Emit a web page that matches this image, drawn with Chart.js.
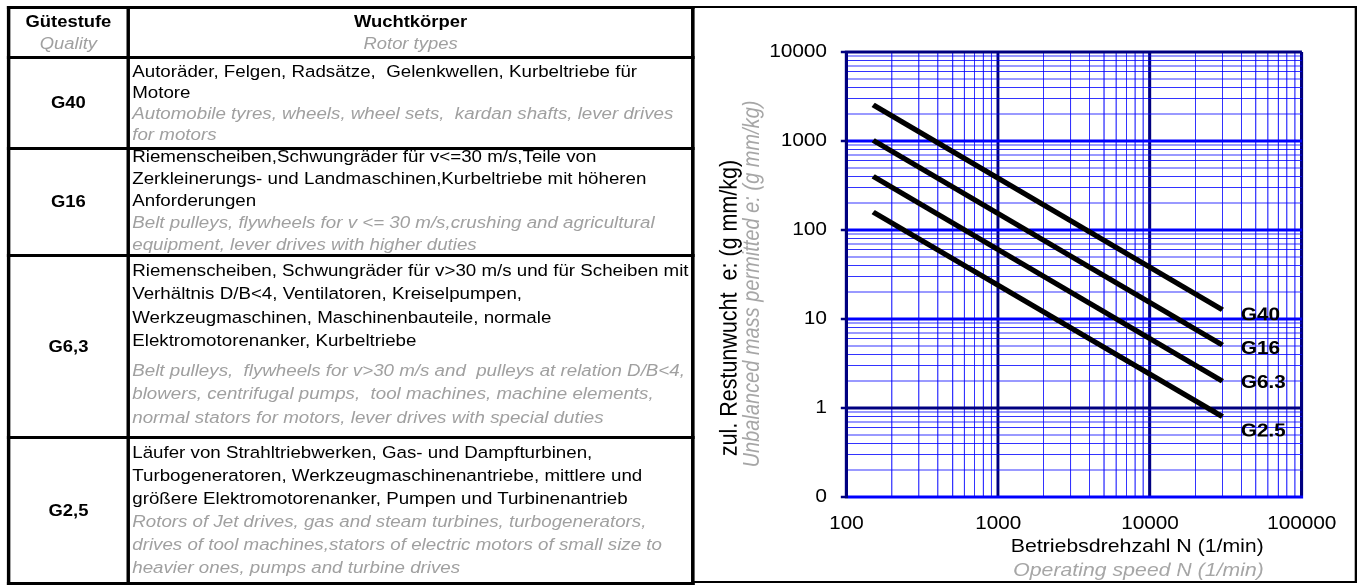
<!DOCTYPE html>
<html>
<head>
<meta charset="utf-8">
<script src="https://cdn.jsdelivr.net/npm/chart.js@4"></script>
<style>
  html, body { margin: 0; padding: 0; background: #fff; }
  body { width: 1358px; height: 585px; overflow: hidden; position: relative; }
  /* the reference is stretched horizontally, so the whole page is laid out narrower and scaled */
  #page { position: absolute; left: 0; top: 0; width: 1181px; height: 585px; transform: scaleX(1.15); transform-origin: 0 0;
          font-family: "Liberation Sans", Arial, sans-serif; }
  table { position: absolute; left: 6px; top: 6px; width: 595px; border-collapse: collapse; table-layout: fixed; font-size: 16.3px; color: #000; }
  td { border: 3px solid #000; padding: 0; vertical-align: middle; }
  .cell { overflow: hidden; display: flex; flex-direction: column; justify-content: center; white-space: nowrap; }
  .q { text-align: center; font-weight: bold; font-size: 16px; }
  .d { padding-left: 2px; }
  .en { color: #a0a0a0; font-style: italic; font-weight: normal; }
  .hd { text-align: center; line-height: 22px; font-size: 16px; }
  .hd b { font-weight: bold; }
  #chartBox { position: absolute; left: 601px; top: 6px; width: 575px; height: 573px; border: 2px solid #000; }
</style>
</head>
<body>
<div id="page">
  <table>
    <colgroup><col style="width:104px"><col style="width:491px"></colgroup>
    <tr>
      <td><div class="cell hd" style="height:47px"><b>Gütestufe</b><span class="en">Quality</span></div></td>
      <td><div class="cell hd" style="height:47px"><b>Wuchtkörper</b><span class="en">Rotor types</span></div></td>
    </tr>
    <tr>
      <td><div class="cell q" style="height:88px">G40</div></td>
      <td><div class="cell d" style="height:88px; line-height:21px">
        <div>Autoräder, Felgen, Radsätze,&nbsp; Gelenkwellen, Kurbeltriebe für<br>Motore</div>
        <div class="en">Automobile tyres, wheels, wheel sets,&nbsp; kardan shafts, lever drives<br>for motors</div>
      </div></td>
    </tr>
    <tr>
      <td><div class="cell q" style="height:104px">G16</div></td>
      <td><div class="cell d" style="height:104px; line-height:22px; padding-bottom:4px; box-sizing:border-box">
        <div>Riemenscheiben,Schwungräder für v&lt;=30 m/s,Teile von<br>Zerkleinerungs- und Landmaschinen,Kurbeltriebe mit höheren<br>Anforderungen</div>
        <div class="en">Belt pulleys, flywheels for v &lt;= 30 m/s,crushing and agricultural<br>equipment, lever drives with higher duties</div>
      </div></td>
    </tr>
    <tr>
      <td><div class="cell q" style="height:179px">G6,3</div></td>
      <td><div class="cell d" style="height:179px; line-height:23.5px; padding-bottom:5px; box-sizing:border-box">
        <div>Riemenscheiben, Schwungräder für v&gt;30 m/s und für Scheiben mit<br>Verhältnis D/B&lt;4, Ventilatoren, Kreiselpumpen,<br>Werkzeugmaschinen, Maschinenbauteile, normale<br>Elektromotorenanker, Kurbeltriebe</div>
        <div class="en" style="margin-top:6px">Belt pulleys,&nbsp; flywheels for v&gt;30 m/s and&nbsp; pulleys at relation D/B&lt;4,<br>blowers, centrifugal pumps,&nbsp; tool machines, machine elements,<br>normal stators for motors, lever drives with special duties</div>
      </div></td>
    </tr>
    <tr>
      <td><div class="cell q" style="height:143px">G2,5</div></td>
      <td><div class="cell d" style="height:143px; line-height:23px; padding-bottom:2px; box-sizing:border-box">
        <div>Läufer von Strahltriebwerken, Gas- und Dampfturbinen,<br>Turbogeneratoren, Werkzeugmaschinenantriebe, mittlere und<br>größere Elektromotorenanker, Pumpen und Turbinenantrieb</div>
        <div class="en">Rotors of Jet drives, gas and steam turbines, turbogenerators,<br>drives of tool machines,stators of electric motors of small size to<br>heavier ones, pumps and turbine drives</div>
      </div></td>
    </tr>
  </table>

  <div id="chartBox"><canvas id="balanceChart"></canvas></div>
</div>

<script>
// Data (operating speed in 1/min, permitted unbalance in g mm/kg)
const speeds = [150, 30000];
const g40 = [2546, 12.7];
const g16 = [1019, 5.1];
const g63 = [401, 2.0];
const g25 = [159, 0.8];
const seriesNames = ['G40', 'G16', 'G6.3', 'G2.5'];

// Axis decades and their labels (bottom of the y axis is shown as "0" like in the sheet)
const xDecades = [100, 1000, 10000, 100000];
const xTickLabels = ['100', '1000', '10000', '100000'];
const yDecades = [0.1, 1, 10, 100, 1000, 10000];
const yTickLabels = ['0', '1', '10', '100', '1000', '10000'];

// label nudges relative to the line end (px)
const labelDy = [6, 4, 2, 15];

function gridValues(decades) {
    const vals = [];
    decades.forEach((d, i) => {
        if (i === decades.length - 1) { vals.push(d); return; }
        for (let m = 1; m <= 9; m++) vals.push(parseFloat((m * d).toPrecision(3)));
    });
    return vals;
}

const NAVY = '#000080';
const BLUE = '#0000ff';
const MINOR = 'rgba(0, 0, 255, 0.8)';

const annotate = {
    id: 'annotate',
    afterDatasetsDraw(chart) {
        const ctx = chart.ctx;
        ctx.save();
        ctx.font = 'bold 18px "Liberation Sans", Arial, sans-serif';
        ctx.fillStyle = '#000';
        ctx.textBaseline = 'middle';
        ctx.textAlign = 'left';
        chart.data.datasets.forEach((ds, i) => {
            const pts = chart.getDatasetMeta(i).data;
            const last = pts[pts.length - 1];
            ctx.fillText(seriesNames[i], last.x + 16, last.y + labelDy[i]);
        });
        ctx.restore();
    },
    afterDraw(chart) {
        const ctx = chart.ctx;
        const area = chart.chartArea;
        ctx.save();
        ctx.textBaseline = 'middle';

        // x axis title, German + English
        ctx.textAlign = 'right';
        ctx.fillStyle = '#000';
        ctx.font = '18.5px "Liberation Sans", Arial, sans-serif';
        ctx.fillText('Betriebsdrehzahl N (1/min)', area.right - 33, area.bottom + 50);
        ctx.fillStyle = '#a6a6a6';
        ctx.font = 'italic 18.5px "Liberation Sans", Arial, sans-serif';
        ctx.fillText('Operating speed N (1/min)', area.right - 33, area.bottom + 74);

        // y axis title
        ctx.textAlign = 'center';
        ctx.save();
        ctx.translate(area.left - 101.5, area.top + 256);
        ctx.rotate(-Math.PI / 2);
        ctx.fillStyle = '#000';
        ctx.font = '21.5px "Liberation Sans", Arial, sans-serif';
        ctx.fillText('zul. Restunwucht  e: (g mm/kg)', 0, 0);
        ctx.restore();
        ctx.save();
        ctx.translate(area.left - 81.5, area.top + 232);
        ctx.rotate(-Math.PI / 2);
        ctx.fillStyle = '#a6a6a6';
        ctx.font = 'italic 20px "Liberation Sans", Arial, sans-serif';
        ctx.fillText('Unbalanced mass permitted e: (g mm/kg)', 0, 0);
        ctx.restore();

        ctx.restore();
    }
};

const toPoints = (vals) => speeds.map((s, i) => ({ x: s, y: vals[i] }));

new Chart(document.getElementById('balanceChart'), {
    type: 'line',
    data: {
        datasets: [g40, g16, g63, g25].map((vals, i) => ({
            label: seriesNames[i],
            data: toPoints(vals),
            borderColor: '#000',
            borderWidth: 5,
            borderCapStyle: 'butt',
            pointRadius: 0,
            tension: 0
        }))
    },
    options: {
        responsive: true,
        maintainAspectRatio: false,
        animation: false,
        devicePixelRatio: 2,
        layout: { padding: { top: 44, right: 37, left: 0, bottom: 0 } },
        plugins: {
            legend: { display: false },
            tooltip: { enabled: false },
            title: { display: false }
        },
        scales: {
            x: {
                type: 'logarithmic',
                min: 100,
                max: 100000,
                afterBuildTicks: (scale) => { scale.ticks = gridValues(xDecades).map(v => ({ value: v })); },
                afterFit: (scale) => { scale.height = 84; },
                ticks: {
                    autoSkip: false,
                    maxRotation: 0,
                    padding: 16,
                    color: '#000',
                    font: { family: '"Liberation Sans", Arial, sans-serif', size: 18 },
                    callback: (value) => {
                        const i = xDecades.indexOf(value);
                        return i >= 0 ? xTickLabels[i] : '';
                    }
                },
                grid: {
                    drawTicks: false,
                    color: (ctx) => xDecades.includes(ctx.tick.value) ? NAVY : MINOR,
                    lineWidth: (ctx) => xDecades.includes(ctx.tick.value) ? 2.6 : 1
                },
                border: { display: true, color: BLUE, width: 3 }
            },
            y: {
                type: 'logarithmic',
                min: 0.1,
                max: 10000,
                afterBuildTicks: (scale) => { scale.ticks = gridValues(yDecades).map(v => ({ value: v })); },
                afterFit: (scale) => { scale.width = 133; },
                ticks: {
                    autoSkip: false,
                    padding: 12,
                    color: '#000',
                    font: { family: '"Liberation Sans", Arial, sans-serif', size: 18 },
                    callback: (value) => {
                        const i = yDecades.indexOf(value);
                        return i >= 0 ? yTickLabels[i] : '';
                    }
                },
                grid: {
                    tickLength: 5,
                    color: (ctx) => {
                        const v = ctx.tick.value;
                        if (v === 1 || v === 10000) return NAVY;
                        return yDecades.includes(v) ? BLUE : MINOR;
                    },
                    lineWidth: (ctx) => yDecades.includes(ctx.tick.value) ? 3 : 1,
                    tickColor: (ctx) => yDecades.includes(ctx.tick.value) ? NAVY : 'rgba(0,0,0,0)',
                    tickWidth: 2.5
                },
                border: { display: true, color: NAVY, width: 3 }
            }
        }
    },
    plugins: [annotate]
});
</script>
</body>
</html>
